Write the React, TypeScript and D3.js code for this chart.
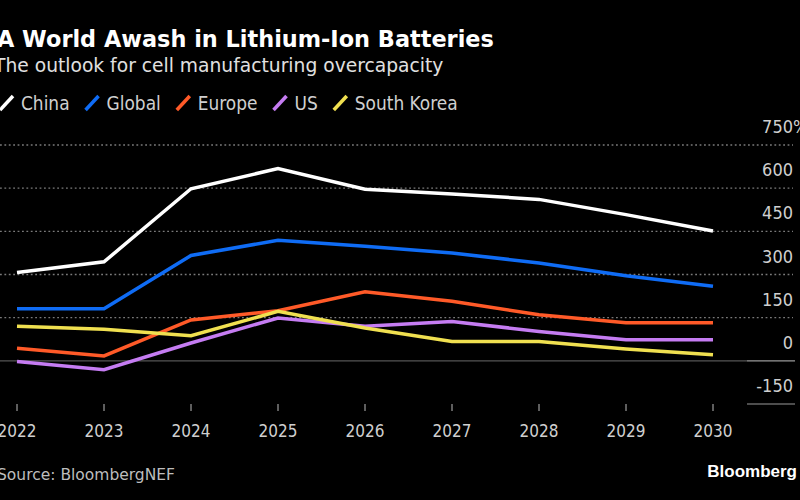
import React, { useEffect, useRef } from "react";
import * as d3 from "d3";

const years = [2022, 2023, 2024, 2025, 2026, 2027, 2028, 2029, 2030];
const seriesNames = ["China", "Global", "Europe", "US", "South Korea"];
const seriesColors = ["#ffffff", "#0f6cf5", "#ff5a28", "#c57cf2", "#f0e050"];
const china = [307, 344, 598, 668, 596, 580, 561, 508, 451];
const global = [181, 181, 366, 419, 398, 375, 340, 296, 259];
const europe = [44, 17, 142, 174, 240, 207, 160, 132, 132];
const us = [-2, -31, 62, 149, 120, 137, 102, 73, 73];
const southKorea = [120, 110, 87, 172, 114, 67, 67, 41, 21];
const yTicks = [-150, 0, 150, 300, 450, 600, 750];
const titleText = "A World Awash in Lithium-Ion Batteries";
const subtitleText = "The outlook for cell manufacturing overcapacity";
const sourceText = "Source: BloombergNEF";
const brandText = "Bloomberg";

const FONT_C = "'DejaVu Sans Condensed', 'DejaVu Sans', sans-serif";
const FONT = "'DejaVu Sans', sans-serif";

export default function App() {
  const ref = useRef<SVGSVGElement | null>(null);

  useEffect(() => {
    const svg = d3.select(ref.current);
    svg.selectAll("*").remove();
    const W = 800;
    const H = 500;
    svg.append("rect").attr("width", W).attr("height", H).attr("fill", "#000");

    const x = d3.scalePoint<number>().domain(years).range([17, 713]);
    const y = d3.scaleLinear().domain([-150, 750]).range([404, 145]);

    // Title & subtitle
    svg.append("text").text(titleText)
      .attr("x", -3).attr("y", 47)
      .attr("fill", "#fff").attr("font-family", FONT)
      .attr("font-weight", "bold").attr("font-size", 22.4);
    svg.append("text").text(subtitleText)
      .attr("x", -6).attr("y", 72)
      .attr("fill", "#e0e0e0").attr("font-family", FONT)
      .attr("font-size", 18.7);

    // Legend
    const legend = svg.append("g");
    let lx = -1;
    seriesNames.forEach((name, i) => {
      legend.append("line")
        .attr("x1", lx + 1).attr("y1", 110)
        .attr("x2", lx + 14).attr("y2", 96)
        .attr("stroke", seriesColors[i]).attr("stroke-width", 3.5);
      const t = legend.append("text").text(name)
        .attr("x", lx + 22).attr("y", 110)
        .attr("fill", "#d0d0d0").attr("font-family", FONT_C)
        .attr("font-size", 18.9).attr("font-stretch", "condensed");
      const w = (t.node() as SVGTextElement).getComputedTextLength();
      lx = lx + 22 + w + 15;
    });

    // Gridlines
    const grid = svg.append("g");
    yTicks.forEach((v) => {
      if (v > 0) {
        grid.append("line")
          .attr("x1", 0).attr("x2", 793)
          .attr("y1", y(v)).attr("y2", y(v))
          .attr("stroke", "#7a7a7a").attr("stroke-width", 1.3)
          .attr("stroke-dasharray", "1.8,2.6");
      } else if (v === 0) {
        grid.append("line")
          .attr("x1", 0).attr("x2", 747)
          .attr("y1", y(v)).attr("y2", y(v))
          .attr("stroke", "#555").attr("stroke-width", 1.2);
        grid.append("line")
          .attr("x1", 747).attr("x2", 795)
          .attr("y1", y(v)).attr("y2", y(v))
          .attr("stroke", "#999").attr("stroke-width", 1.2);
      } else {
        grid.append("line")
          .attr("x1", 747).attr("x2", 795)
          .attr("y1", y(v)).attr("y2", y(v))
          .attr("stroke", "#999").attr("stroke-width", 1.2);
      }
      const lab = grid.append("text")
        .attr("x", 793).attr("y", y(v) - 12)
        .attr("text-anchor", v === 750 ? "start" : "end")
        .attr("fill", "#cfcfcf").attr("font-family", FONT_C)
        .attr("font-size", 18).attr("font-stretch", "condensed");
      if (v === 750) {
        lab.text(String(v) + "%");
        const tmp = grid.append("text").text(String(v))
          .attr("font-family", FONT_C).attr("font-size", 18).attr("font-stretch", "condensed");
        const wn = (tmp.node() as SVGTextElement).getComputedTextLength();
        tmp.remove();
        lab.attr("x", 793 - wn);
      } else {
        lab.text(String(v));
      }
    });

    // X axis
    const xa = svg.append("g");
    years.forEach((yr) => {
      xa.append("line")
        .attr("x1", x(yr)!).attr("x2", x(yr)!)
        .attr("y1", 404).attr("y2", 411)
        .attr("stroke", "#bbb").attr("stroke-width", 1);
      xa.append("text").text(String(yr))
        .attr("x", x(yr)!).attr("y", 437)
        .attr("text-anchor", "middle")
        .attr("fill", "#cfcfcf").attr("font-family", FONT_C)
        .attr("font-size", 17).attr("font-stretch", "condensed");
    });

    // Lines
    const allSeries = [china, global, europe, us, southKorea];
    const lineGen = d3.line<number>()
      .x((_, i) => x(years[i])!)
      .y((d) => y(d));
    allSeries.forEach((s, i) => {
      svg.append("path")
        .attr("d", lineGen(s)!)
        .attr("fill", "none")
        .attr("stroke", seriesColors[i])
        .attr("stroke-width", 3.5);
    });

    // Footer
    svg.append("text").text(sourceText)
      .attr("x", -3).attr("y", 480)
      .attr("fill", "#bdbdbd").attr("font-family", FONT)
      .attr("font-size", 15.5);
    svg.append("text").text(brandText)
      .attr("x", 797).attr("y", 477)
      .attr("text-anchor", "end")
      .attr("fill", "#fff").attr("font-family", "'Liberation Sans', Arial, sans-serif")
      .attr("font-weight", "bold").attr("font-size", 17);
  }, []);

  return (
    <svg
      ref={ref}
      width={800}
      height={500}
      style={{ position: "absolute", left: 0, top: 0, display: "block" }}
    />
  );
}
